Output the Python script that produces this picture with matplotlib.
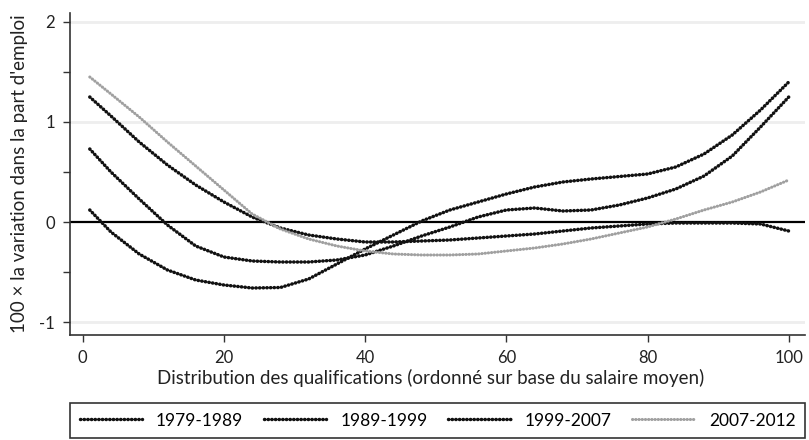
import matplotlib
matplotlib.use("Agg")
import matplotlib.pyplot as plt

plt.rcParams['font.family'] = ['Lato', 'DejaVu Sans']

x = [1, 4, 8, 12, 16, 20, 24, 28, 32, 36, 40, 44, 48, 52, 56, 60, 64, 68, 72, 76, 80, 84, 88, 92, 96, 100]

s_1979_1989 = [0.12, -0.10, -0.32, -0.48, -0.58, -0.63, -0.66, -0.655, -0.57, -0.42, -0.27, -0.13, 0.01,
               0.12, 0.20, 0.28, 0.35, 0.40, 0.43, 0.455, 0.48, 0.55, 0.68, 0.87, 1.12, 1.40]
s_1989_1999 = [0.73, 0.50, 0.23, -0.03, -0.24, -0.35, -0.39, -0.40, -0.40, -0.38, -0.33, -0.24, -0.14,
               -0.05, 0.05, 0.12, 0.14, 0.11, 0.12, 0.17, 0.24, 0.33, 0.46, 0.66, 0.95, 1.25]
s_1999_2007 = [1.25, 1.06, 0.80, 0.57, 0.37, 0.20, 0.05, -0.06, -0.13, -0.17, -0.20, -0.20, -0.19,
               -0.18, -0.16, -0.14, -0.12, -0.09, -0.06, -0.04, -0.02, -0.01, -0.01, -0.01, -0.02, -0.09]
s_2007_2012 = [1.45, 1.28, 1.05, 0.80, 0.56, 0.32, 0.08, -0.07, -0.17, -0.24, -0.29, -0.32, -0.33,
               -0.33, -0.32, -0.29, -0.26, -0.22, -0.17, -0.11, -0.05, 0.03, 0.12, 0.20, 0.30, 0.42]

labels = ['1979-1989', '1989-1999', '1999-2007', '2007-2012']
series = [s_1979_1989, s_1989_1999, s_1999_2007, s_2007_2012]
colors = ['#111111', '#111111', '#111111', '#a0a0a0']
widths = [2.5, 2.5, 2.5, 2.2]

xticks = [0, 20, 40, 60, 80, 100]
yticks = [-1, 0, 1, 2]
yminor = [-0.5, 0.5, 1.5]

fig = plt.figure(figsize=(8.09, 4.4), dpi=100)
ax = fig.add_axes([70/809, 105/440, 735/809, 322/440])

for yv in [-1, 1, 2]:
    ax.axhline(yv, color='#eeeeee', lw=2.0, zorder=0)
ax.axhline(0, color='black', lw=1.6, zorder=1)

handles = []
for s, lab, c, w in zip(series, labels, colors, widths):
    ln, = ax.plot(x, s, color=c, lw=w, linestyle=(0, (0.1, 0.95)),
                  dash_capstyle='round', solid_joinstyle='round', zorder=2, label=lab)
    handles.append(ln)

ax.set_xlim(-1.8, 102.3)
ax.set_ylim(-1.13, 2.09)
ax.set_xticks(xticks)
ax.set_yticks(yticks)
ax.set_yticks(yminor, minor=True)
ax.set_yticklabels(['-1', '0', '1', '2'])
for sp in ['top', 'right']:
    ax.spines[sp].set_visible(False)
for sp in ['left', 'bottom']:
    ax.spines[sp].set_color('#333333')
    ax.spines[sp].set_linewidth(1.2)
ax.tick_params(axis='both', which='both', direction='out', length=5, width=1.0,
               color='#333333', labelsize=12, labelcolor='#222222')
ax.tick_params(axis='x', pad=6)
ax.tick_params(axis='y', pad=6)
ax.set_xlabel('Distribution des qualifications (ordonné sur base du salaire moyen)',
              fontsize=13.5, color='#222222', labelpad=0)
ax.xaxis.set_label_coords(0.49, -0.105)
ax.set_ylabel("100 × la variation dans la part d'emploi", fontsize=13.5, color='#222222', labelpad=8)

leg = fig.legend(handles=handles, labels=labels, loc='upper left', ncol=4, mode='expand',
                 bbox_to_anchor=(70/809, -0.05, 735/809, (440-403)/440 + 0.05),
                 fancybox=False, edgecolor='#333333', fontsize=12.5, handlelength=3.6,
                 borderaxespad=0, framealpha=1, borderpad=0.55)
leg.get_frame().set_linewidth(1.2)

fig.savefig('out.png', dpi=100)
